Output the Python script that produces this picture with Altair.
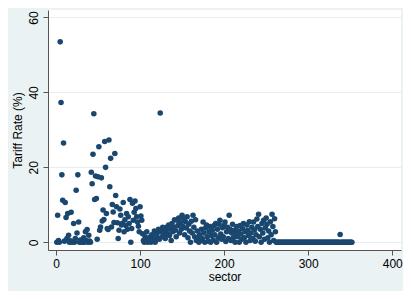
import altair as alt
import pandas as pd

# Tariff rate (%) for each sector, sectors numbered 1..N in order
rates = [
    0, 7.2, 0.5, 0, 53.5, 37.3, 18, 11.2, 26.5, 0.3,
    10.6, 6.6, 1, 7.7, 1.9, 0, 0.4, 8, 0, 0.2,
    5, 0, 1, 13.9, 2.5, 18, 5.4, 0, 0.6, 0,
    0.2, 0, 1.2, 0, 2.8, 0.5, 3.4, 0, 1.9, 0.3,
    0, 18.7, 15.6, 23.5, 34.3, 11.4, 17.7, 11.7, 0.8, 17.5,
    25.5, 3.2, 4.1, 17.2, 5.7, 8.6, 6.1, 26.9, 20, 7.7,
    3.7, 3.4, 27.3, 14.8, 22.4, 4.1, 10.1, 8.1, 5.3, 23.7,
    12.5, 9.5, 5.2, 1, 3.2, 8.9, 7.2, 4.6, 5.1, 10.6,
    2.8, 6, 4.5, 7.7, 3.5, 6.8, 5, 11.4, 0, 3.7,
    10.4, 5.9, 8, 11, 9, 6.8, 5.4, 4.3, 2.8, 9.5,
    7, 5.9, 2.3, 0.5, 0, 1.5, 0.8, 2.8, 0, 1,
    0.3, 1.4, 0, 2, 0.5, 1.2, 3, 0, 2.5, 2.3,
    1, 3.5, 0.8, 34.5, 2.8, 1.5, 4, 3.2, 2, 1,
    3, 4.1, 2.2, 4.6, 1.8, 3.5, 0.5, 5, 2.8, 4,
    6, 3.2, 1.5, 5.9, 4.5, 6.5, 2.5, 5.2, 3.5, 7.2,
    4.2, 6.2, 2, 5.5, 3.8, 6.8, 1.2, 4.8, 3, 0,
    5.6, 2.5, 7.2, 4, 1.5, 6, 0.5, 3, 1.2, 0,
    2, 0.5, 3.5, 1, 5.4, 2.5, 0, 3.8, 4.6, 1.5,
    0.3, 2.8, 4.2, 0, 1.8, 3.2, 0.6, 4.5, 2, 5,
    0, 3.5, 1.2, 4.8, 5.9, 2.2, 0.8, 3.9, 1.5, 4.5,
    5.4, 0.2, 2.8, 4, 1, 7.2, 3.5, 0.5, 2.5, 4.8,
    1.2, 3.2, 0, 2, 4.2, 1.5, 3, 0, 4.5, 2.2,
    0.8, 3.6, 5, 1.2, 2.8, 0, 4.6, 3.2, 1.8, 5.5,
    0.5, 2.5, 4, 1, 5.4, 3.3, 0.3, 2, 6.2, 4.2,
    7.5, 1.5, 3.5, 0, 5, 2.5, 5.9, 0.8, 3.8, 6.5,
    4.8, 1.2, 3, 0, 5.5, 2, 7.5, 4.2, 0.5, 6.3,
    2.8, 0, 0, 0, 0, 0, 0, 0, 0, 0,
    0, 0, 0, 0, 0, 0, 0, 0, 0, 0,
    0, 0, 0, 0, 0, 0, 0, 0, 0, 0,
    0, 0, 0, 0, 0, 0, 0, 0, 0, 0,
    0, 0, 0, 0, 0, 0, 0, 0, 0, 0,
    0, 0, 0, 0, 0, 0, 0, 0, 0, 0,
    0, 0, 0, 0, 0, 0, 0, 0, 0, 0,
    0, 0, 0, 0, 0, 0, 0, 2.1, 0, 0,
    0, 0, 0, 0, 0, 0, 0, 0, 0, 0,
    0, 0,
]
sectors = list(range(1, len(rates) + 1))

x_ticks = [0, 100, 200, 300, 400]
y_ticks = [0, 20, 40, 60]

df = pd.DataFrame({"sector": sectors, "rate": rates})

FONT = "Liberation Sans"
AXIS_COL = "#555555"

chart = (
    alt.Chart(df)
    .mark_circle(size=31, color="#1a476f", opacity=1)
    .encode(
        x=alt.X(
            "sector:Q",
            scale=alt.Scale(domain=[-9.5, 410.4], nice=False, zero=False),
            axis=alt.Axis(
                values=x_ticks,
                title="sector",
                grid=False,
                tickSize=5,
                labelPadding=3,
                titlePadding=2,
                labelFlush=False,
                labelOverlap=False,
            ),
        ),
        y=alt.Y(
            "rate:Q",
            scale=alt.Scale(domain=[-2.06, 62.0], nice=False, zero=False),
            axis=alt.Axis(
                values=y_ticks,
                title="Tariff Rate (%)",
                grid=True,
                gridColor="#E4EEF1",
                gridWidth=1,
                tickSize=5,
                labelAngle=270,
                labelAlign="center",
                labelBaseline="bottom",
                labelPadding=3,
                titlePadding=3,
                labelFlush=False,
                labelOverlap=False,
            ),
        ),
    )
    .properties(
        width=353,
        height=240,
        background="#EAF2F3",
        padding={"left": 40, "top": 2, "right": 2, "bottom": 41},
        autosize=alt.AutoSizeParams(type="none"),
    )
    .configure_view(fill="white", strokeWidth=0)
    .configure_axis(
        domainColor=AXIS_COL,
        domainWidth=1,
        tickColor=AXIS_COL,
        tickWidth=1,
        labelFont=FONT,
        labelFontSize=12,
        labelColor="#000000",
        titleFont=FONT,
        titleFontSize=12,
        titleFontWeight="normal",
        titleColor="#000000",
    )
)

chart.save("out.html", embed_options={"renderer": "svg", "actions": False})
